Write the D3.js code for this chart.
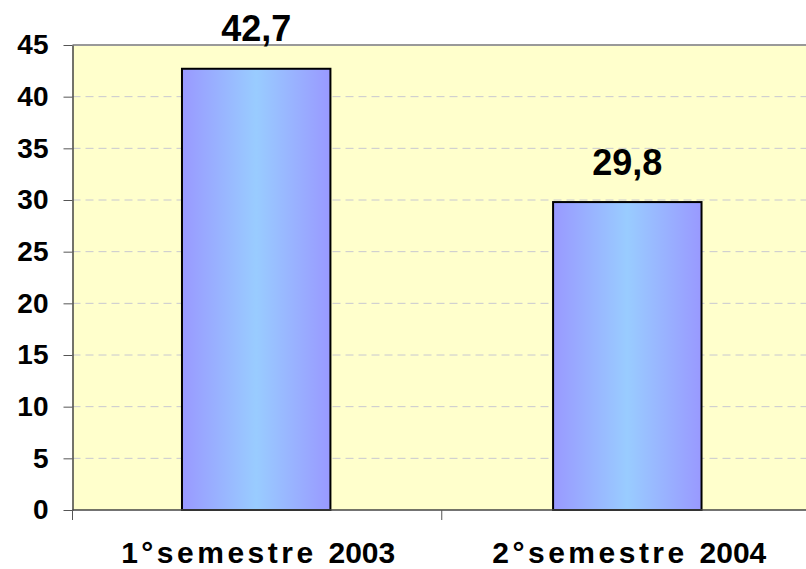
<!DOCTYPE html>
<html>
<head>
<meta charset="utf-8">
<script src="https://cdn.jsdelivr.net/npm/d3@7"></script>
<style>
  body { margin: 0; background: #fff; }
  svg { display: block; font-family: Arial, "Liberation Sans", sans-serif; }
</style>
</head>
<body>
<div id="chart"></div>
<script>
const categories = ["1°semestre 2003", "2°semestre 2004"];
const values = [42.7, 29.8];
const valueLabels = ["42,7", "29,8"];
const yTicks = [0, 5, 10, 15, 20, 25, 30, 35, 40, 45];

const width = 806;
const height = 569;
const margin = { top: 45, bottom: 59, left: 72.5, right: -5 };

const svg = d3.select("#chart")
    .append("svg")
    .attr("width", width)
    .attr("height", height);

const x = d3.scaleBand()
    .domain(d3.range(categories.length))
    .range([margin.left, width - margin.right])
    .paddingInner(0.6)
    .paddingOuter(0.295);

const y = d3.scaleLinear()
    .domain([0, 45])
    .range([height - margin.bottom, margin.top]);

const grad = svg.append("defs").append("linearGradient")
    .attr("id", "barGrad")
    .attr("x1", "0%").attr("x2", "100%").attr("y1", "0%").attr("y2", "0%");
grad.append("stop").attr("offset", "0%").attr("stop-color", "#9999ff");
grad.append("stop").attr("offset", "50%").attr("stop-color", "#99ccff");
grad.append("stop").attr("offset", "100%").attr("stop-color", "#9999ff");

// plot background
svg.append("rect")
    .attr("x", margin.left)
    .attr("y", y(45))
    .attr("width", width - margin.left + 10)
    .attr("height", y(0) - y(45))
    .attr("fill", "#ffffcc");

// gridlines
svg.append("g")
    .selectAll("line")
    .data(yTicks.filter(d => d > 0 && d < 45))
    .join("line")
        .attr("x1", margin.left)
        .attr("x2", width)
        .attr("y1", d => y(d))
        .attr("y2", d => y(d))
        .attr("stroke", "#c8c8d0")
        .attr("stroke-width", 1)
        .attr("stroke-dasharray", "8,5");

// top border
svg.append("line")
    .attr("x1", margin.left).attr("x2", width)
    .attr("y1", y(45)).attr("y2", y(45))
    .attr("stroke", "#999").attr("stroke-width", 2);

// bars
svg.append("g")
    .selectAll("rect")
    .data(values)
    .join("rect")
        .attr("x", (d, i) => x(i))
        .attr("y", d => y(d))
        .attr("width", x.bandwidth())
        .attr("height", d => y(0) - y(d))
        .attr("fill", "url(#barGrad)")
        .attr("stroke", "#000")
        .attr("stroke-width", 2);

// value labels
svg.append("g")
    .selectAll("text")
    .data(values)
    .join("text")
        .attr("x", (d, i) => x(i) + x.bandwidth() / 2)
        .attr("y", d => y(d) - 27.5)
        .attr("text-anchor", "middle")
        .attr("font-size", "36px")
        .attr("font-weight", "bold")
        .text((d, i) => valueLabels[i]);

// y axis
const yAxis = svg.append("g")
    .attr("transform", `translate(${margin.left}, 0)`)
    .call(d3.axisLeft(y).tickValues(yTicks).tickSize(9).tickSizeOuter(0).tickPadding(15));
yAxis.select(".domain").attr("stroke", "#444").attr("stroke-width", 1.5);
yAxis.selectAll(".tick line").attr("stroke", "#555");
yAxis.selectAll(".tick text")
    .attr("font-size", "28px")
    .attr("font-weight", "bold")
    .attr("font-family", "Arial, 'Liberation Sans', sans-serif")
    .attr("fill", "#000");

// x axis
const xAxis = svg.append("g")
    .attr("transform", `translate(0, ${y(0)})`);
xAxis.append("line")
    .attr("x1", margin.left).attr("x2", width)
    .attr("stroke", "#444").attr("stroke-width", 1.5);
const seps = [margin.left, (x(0) + x.bandwidth() + x(1)) / 2];
xAxis.selectAll(".sep")
    .data(seps)
    .join("line")
        .attr("class", "sep")
        .attr("x1", d => d)
        .attr("x2", d => d)
        .attr("y1", 0).attr("y2", 10)
        .attr("stroke", "#555");
const catText = xAxis.selectAll(".cat")
    .data(categories)
    .join("text")
        .attr("class", "cat")
        .attr("x", (d, i) => x(i) + x.bandwidth() / 2 + 2)
        .attr("y", 53)
        .attr("text-anchor", "middle")
        .attr("font-size", "30px")
        .attr("font-weight", "bold");
catText.append("tspan")
    .attr("letter-spacing", "3.5px")
    .text(d => d.slice(0, d.lastIndexOf(" ") + 1));
catText.append("tspan")
    .attr("letter-spacing", "0px")
    .text(d => d.slice(d.lastIndexOf(" ") + 1));
</script>
</body>
</html>
